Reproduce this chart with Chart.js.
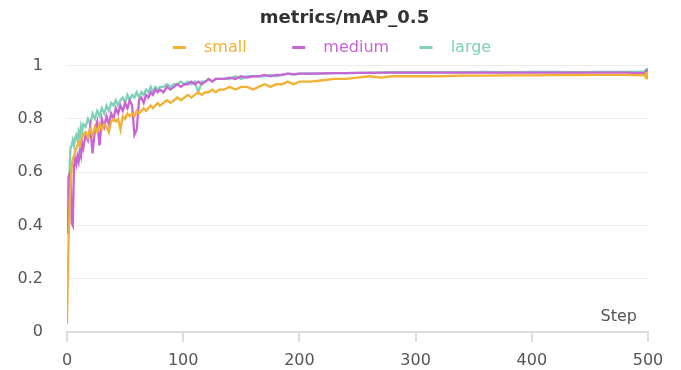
<!DOCTYPE html>
<html>
<head>
<meta charset="utf-8">
<script src="https://cdn.jsdelivr.net/npm/chart.js@4"></script>
<style>
  html, body { margin: 0; padding: 0; background: #fff; }
  #wrap { width: 681px; height: 370px; }
</style>
</head>
<body>
<div id="wrap"><canvas id="chart-map"></canvas></div>
<script>
var steps = [0, 1, 2, 3, 4, 5, 6, 7, 8, 9, 10, 11, 12, 13, 14,
    16, 18, 20, 22, 24, 26, 28, 30, 32, 34, 36, 38, 40, 42, 44, 46, 48, 50, 52, 54, 56, 58, 60, 62, 64, 66, 68, 70, 72, 74, 76, 78, 80,
    83, 86, 89, 92, 95, 98, 101, 104, 107, 110, 113, 116, 119, 122, 125, 128, 131,
    135, 140, 145, 150, 155, 160, 165, 170, 175, 180, 185, 190, 195,
    200, 210, 220, 230, 240, 250, 260, 270, 280, 290, 300,
    320, 340, 360, 380, 400, 420, 440, 460, 480, 500];

var small = [0.03, 0.28, 0.45, 0.55, 0.62, 0.65, 0.66, 0.68, 0.69, 0.70, 0.71, 0.70, 0.72, 0.73, 0.74,
    0.75, 0.73, 0.76, 0.74, 0.77, 0.75, 0.78, 0.76, 0.78, 0.77, 0.75, 0.79, 0.80, 0.79, 0.80, 0.76, 0.81, 0.80, 0.82, 0.81, 0.82, 0.81, 0.83, 0.82, 0.83, 0.84, 0.83, 0.84, 0.85, 0.84, 0.85, 0.86, 0.85,
    0.86, 0.87, 0.86, 0.87, 0.88, 0.87, 0.88, 0.89, 0.88, 0.89, 0.90, 0.89, 0.90, 0.90, 0.91, 0.90, 0.91,
    0.91, 0.92, 0.91, 0.92, 0.92, 0.91, 0.92, 0.93, 0.92, 0.93, 0.93, 0.94, 0.93,
    0.94, 0.94, 0.945, 0.95, 0.95, 0.955, 0.96, 0.955, 0.96, 0.96, 0.96,
    0.96, 0.962, 0.962, 0.963, 0.963, 0.964, 0.964, 0.965, 0.965, 0.963];

var medium = [0.37, 0.45, 0.59, 0.60, 0.41, 0.40, 0.62, 0.65, 0.63, 0.66, 0.64, 0.68, 0.66, 0.71, 0.69,
    0.74, 0.72, 0.77, 0.67, 0.76, 0.79, 0.70, 0.80, 0.77, 0.81, 0.78, 0.82, 0.80, 0.84, 0.82, 0.85, 0.83, 0.86, 0.84, 0.87, 0.85, 0.74, 0.76, 0.87, 0.88, 0.86, 0.89, 0.88, 0.90, 0.89, 0.91, 0.90, 0.91,
    0.90, 0.92, 0.91, 0.92, 0.93, 0.92, 0.93, 0.93, 0.94, 0.93, 0.94, 0.93, 0.94, 0.95, 0.94, 0.95, 0.95,
    0.95, 0.955, 0.95, 0.96, 0.955, 0.96, 0.96, 0.965, 0.96, 0.965, 0.965, 0.97, 0.968,
    0.97, 0.97, 0.971, 0.972, 0.972, 0.973, 0.973, 0.974, 0.974, 0.974, 0.974,
    0.974, 0.974, 0.974, 0.974, 0.974, 0.974, 0.974, 0.974, 0.974, 0.971];

var large = [0.37, 0.58, 0.59, 0.69, 0.70, 0.72, 0.70, 0.73, 0.74, 0.72, 0.75, 0.73, 0.77, 0.75, 0.78,
    0.77, 0.80, 0.78, 0.82, 0.80, 0.83, 0.81, 0.84, 0.82, 0.85, 0.83, 0.86, 0.85, 0.87, 0.85, 0.87, 0.88, 0.86, 0.89, 0.87, 0.89, 0.88, 0.90, 0.88, 0.90, 0.89, 0.91, 0.90, 0.92, 0.90, 0.92, 0.91, 0.92,
    0.92, 0.93, 0.92, 0.93, 0.93, 0.94, 0.93, 0.94, 0.93, 0.94, 0.90, 0.94, 0.94, 0.95, 0.94, 0.95, 0.95,
    0.95, 0.95, 0.96, 0.95, 0.96, 0.96, 0.96, 0.96, 0.965, 0.96, 0.965, 0.97, 0.965,
    0.97, 0.97, 0.97, 0.972, 0.972, 0.973, 0.974, 0.974, 0.975, 0.975, 0.975,
    0.975, 0.975, 0.976, 0.975, 0.976, 0.976, 0.975, 0.976, 0.976, 0.977];

var seriesNames = ['small', 'medium', 'large'];
var seriesColors = ['#f2b132', '#c764d6', '#7fd1b9'];
var yTicks = [0, 0.2, 0.4, 0.6, 0.8, 1];
var xTicks = [0, 100, 200, 300, 400, 500];

var FONT = "'DejaVu Sans', sans-serif";

// legend text gets extra spaces so the items sit like the original ones
var legendPad = [['  ', '       '], ['  ', '    '], ['  ', '']];

function toPoints(vals) {
    return vals.map(function(v, i) {
        return { x: steps[i], y: v };
    });
}

var lastIdx = steps.length - 1;
var datasets = [small, medium, large].map(function(vals, k) {
    return {
        label: seriesNames[k],
        data: toPoints(vals),
        borderColor: seriesColors[k],
        backgroundColor: seriesColors[k],
        borderWidth: 2.3,
        tension: 0,
        pointRadius: function(ctx) { return ctx.dataIndex === lastIdx ? 4 : 0; },
        pointBorderWidth: 0,
        pointHoverRadius: 0
    };
});

// "Step" label sitting just above the x axis on the right
var stepLabel = {
    id: 'stepLabel',
    afterDraw: function(chart) {
        var ctx = chart.ctx, area = chart.chartArea;
        ctx.save();
        ctx.font = '16px ' + FONT;
        ctx.fillStyle = '#555';
        ctx.textAlign = 'right';
        ctx.textBaseline = 'middle';
        ctx.fillText('Step', area.right - 11, area.bottom - 15);
        ctx.restore();
    }
};

Chart.defaults.font.family = FONT;
Chart.defaults.animation = false;

new Chart(document.getElementById('chart-map'), {
    type: 'line',
    data: { datasets: datasets },
    options: {
        responsive: true,
        maintainAspectRatio: false,
        layout: { padding: { left: 16, right: 33, top: 0, bottom: 0 } },
        plugins: {
            title: {
                display: true,
                text: '    metrics/mAP_0.5',
                color: '#333',
                font: { size: 18, weight: 'bold' },
                padding: { top: 8, bottom: 0 }
            },
            legend: {
                labels: {
                    usePointStyle: true,
                    pointStyle: 'line',
                    pointStyleWidth: 13,
                    padding: 10,
                    font: { size: 16 },
                    generateLabels: function(chart) {
                        return Chart.defaults.plugins.legend.labels.generateLabels(chart).map(function(item, k) {
                            item.text = legendPad[k][0] + item.text + legendPad[k][1];
                            item.fontColor = seriesColors[k];
                            item.lineWidth = 3;
                            return item;
                        });
                    }
                }
            },
            tooltip: { enabled: false }
        },
        scales: {
            x: {
                type: 'linear',
                min: 0,
                max: 500,
                afterBuildTicks: function(axis) {
                    axis.ticks = xTicks.map(function(v) { return { value: v }; });
                },
                afterFit: function(axis) { axis.height = 38; },
                ticks: { color: '#555', font: { size: 16 }, padding: 9, maxRotation: 0 },
                grid: { drawOnChartArea: false, tickLength: 10, color: '#ddd', lineWidth: 2 },
                border: { color: '#ddd', width: 2 }
            },
            y: {
                min: 0,
                max: 1,
                afterBuildTicks: function(axis) {
                    axis.ticks = yTicks.map(function(v) { return { value: v }; });
                },
                afterFit: function(axis) { axis.width = 51; },
                ticks: {
                    color: '#555',
                    font: { size: 16 },
                    padding: 24,
                    callback: function(v) { return String(Math.round(v * 10) / 10); }
                },
                grid: { drawTicks: false, color: '#eee' },
                border: { display: false }
            }
        }
    },
    plugins: [stepLabel]
});
</script>
</body>
</html>
